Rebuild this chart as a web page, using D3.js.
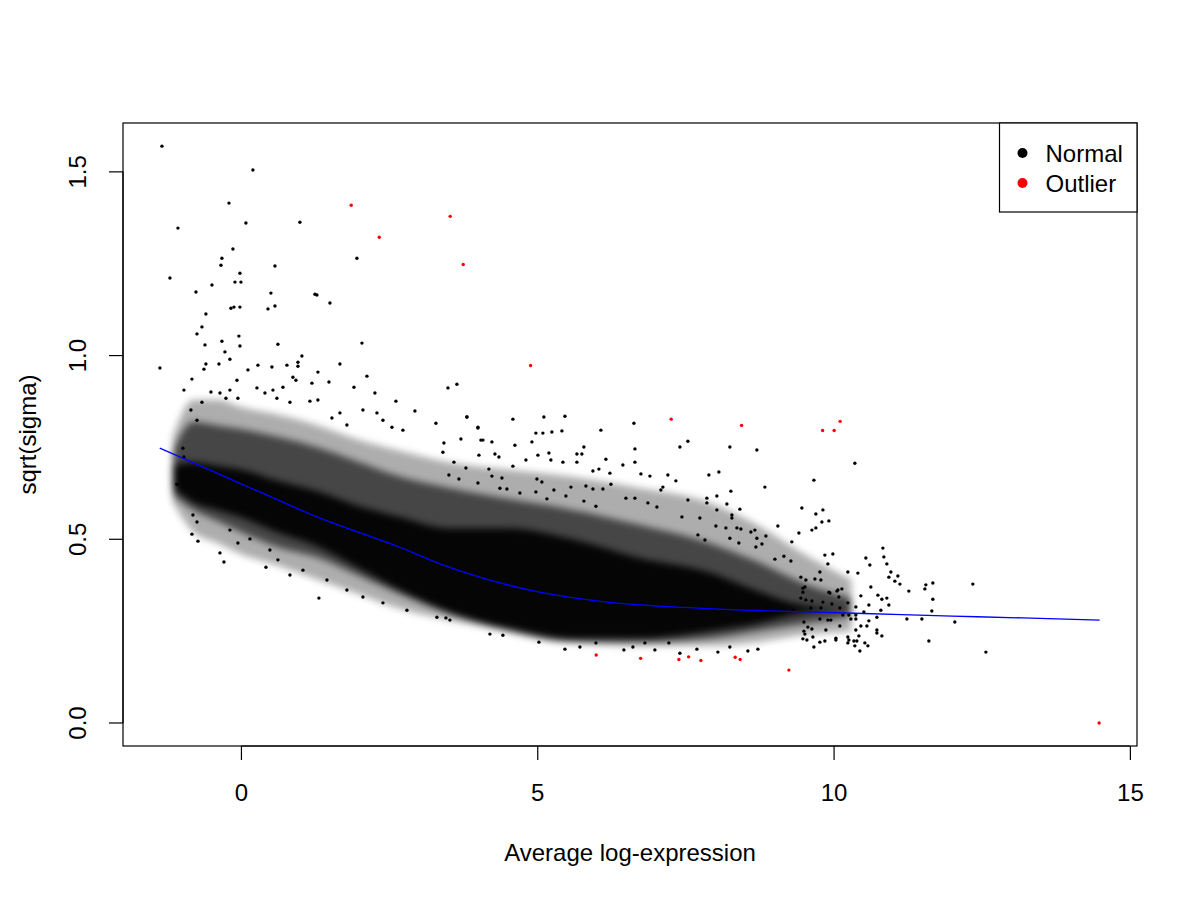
<!DOCTYPE html>
<html>
<head>
<meta charset="utf-8">
<script src="https://cdn.jsdelivr.net/npm/d3@7/dist/d3.min.js"></script>
<style>
  body { margin: 0; background: #fff; }
  svg text { font-family: "Liberation Sans", Arial, Helvetica, sans-serif; fill: #000; }
</style>
</head>
<body>
<div id="chart"></div>
<script>
/* sqrt(sigma) vs average log-expression, limma plotSA style */

const xTicks = [0, 5, 10, 15];
const yTicks = [0, 0.5, 1.0, 1.5];
const yTickLabels = ["0.0", "0.5", "1.0", "1.5"];

/* dense core of the cloud, read as ink bands per x position */
const bandX   = [-1.15, -0.8, -0.4, 0, 0.6, 1.3, 2.0, 2.7, 3.5, 4.5, 5.6, 6.7, 7.9, 8.7, 9.5, 10.3];
const outerLo = [0.60, 0.52, 0.49, 0.46, 0.43, 0.39, 0.35, 0.31, 0.28, 0.25, 0.22, 0.21, 0.21, 0.22, 0.24, 0.25];
const outerHi = [0.78, 0.88, 0.88, 0.86, 0.84, 0.81, 0.77, 0.74, 0.71, 0.69, 0.67, 0.64, 0.60, 0.54, 0.46, 0.39];
const midLo   = [0.62, 0.58, 0.55, 0.52, 0.48, 0.45, 0.40, 0.35, 0.30, 0.25, 0.22, 0.22, 0.23, 0.25, 0.27, 0.29];
const midHi   = [0.74, 0.82, 0.81, 0.80, 0.78, 0.75, 0.71, 0.67, 0.64, 0.61, 0.58, 0.54, 0.49, 0.44, 0.38, 0.34];
const innerLo = [0.64, 0.60, 0.58, 0.56, 0.52, 0.48, 0.42, 0.36, 0.30, 0.26, 0.23, 0.23, 0.25, 0.27, 0.30, 0.31];
const innerHi = [0.70, 0.71, 0.70, 0.69, 0.66, 0.63, 0.59, 0.56, 0.53, 0.53, 0.50, 0.45, 0.41, 0.36, 0.32, 0.31];

/* individually visible genes away from the core */
const normalPts = [
  [-1.333,1.570],[0.202,1.505],[-0.202,1.415],[-1.063,1.347],[0.084,1.361],[0.995,1.363],[-0.135,1.290],
  [-0.321,1.265],[-0.337,1.246],[0.574,1.244],[1.957,1.265],[-1.198,1.211],[-0.017,1.224],[-0.489,1.192],
  [-0.101,1.200],[0.0,1.200],[-0.759,1.173],[0.506,1.170],[1.249,1.167],[1.282,1.165],[1.502,1.143],
  [-0.591,1.113],[-0.169,1.129],[-0.118,1.132],[-0.017,1.132],[0.456,1.127],[0.574,1.135],[-0.658,1.078],
  [-0.742,1.059],[-0.034,1.053],[-0.321,1.039],[-0.607,1.029],[-0.017,1.026],[0.624,1.031],[2.042,1.034],
  [-0.270,1.010],[-0.186,0.990],[1.029,0.999],[-1.367,0.966],[-0.591,0.977],[-0.624,0.963],[-0.371,0.977],
  [0.118,0.961],[0.287,0.974],[0.523,0.969],[0.776,0.974],[0.962,0.982],[0.962,0.971],[1.299,0.955],
  [1.670,0.977],
  [-0.827,0.936],[-0.962,0.906],[-0.067,0.933],[2.126,0.944],[1.485,0.928],[1.198,0.925],[1.907,0.914],
  [2.261,0.898],[2.615,0.876],[2.936,0.849],[3.493,0.912],[3.644,0.922],[3.813,0.833],[3.290,0.816],
  [3.999,0.805],[0.540,0.906],[0.270,0.912],[0.405,0.898],[-0.506,0.901],[-0.354,0.898],[-0.186,0.906],
  [0.877,0.941],[0.928,0.933],[0.709,0.914],[0.827,0.873],[1.299,0.879],[1.164,0.876],[0.607,0.884],
  [-0.658,0.873],[-0.051,0.884],[-0.253,0.884],[2.058,0.852],[2.295,0.844],[1.670,0.844],[1.535,0.830],
  [1.788,0.811],[2.396,0.824],[2.548,0.805],[2.733,0.797],[-0.844,0.852],[-0.742,0.824],
  [8.250,0.751],[8.706,0.743],[10.359,0.707],[9.668,0.661],[8.267,0.631],[8.841,0.642],[8.200,0.596],
  [8.419,0.582],[9.465,0.585],[9.820,0.580],[9.701,0.569],[8.284,0.558],[9.803,0.547],[9.921,0.550],
  [9.060,0.536],[8.183,0.531],[8.369,0.531],[8.436,0.528],[8.672,0.525],[9.634,0.525],[9.701,0.531],
  [9.415,0.517],[8.858,0.509],[8.250,0.503],[8.605,0.520],[8.706,0.503],[9.296,0.493],[10.832,0.476],
  [8.791,0.487],[8.402,0.490],[8.689,0.479],[9.853,0.457],[9.988,0.460],[10.849,0.452],[10.545,0.449],
  [10.612,0.430],[10.899,0.433],[9.904,0.433],[9.010,0.446],[9.162,0.454],[9.280,0.441],[10.241,0.411],
  [10.410,0.408],[9.769,0.411],[10.967,0.411],[11.085,0.400],[10.933,0.397],[11.034,0.386],[11.119,0.378],
  [11.557,0.376],[11.675,0.381],[12.350,0.378],[11.540,0.365],[11.270,0.359],[10.629,0.370],[10.073,0.362],
  [10.140,0.365],[9.938,0.354],[9.448,0.397],[9.516,0.370],[9.786,0.389],[10.461,0.346],[10.748,0.348],
  [10.815,0.337],[10.899,0.340],[11.675,0.337],[10.596,0.321],[10.933,0.321],[10.798,0.307],[11.658,0.305],
  [10.241,0.327],[10.376,0.316],[10.511,0.302],[9.971,0.324],[10.106,0.313],[9.820,0.329],[9.617,0.313],
  [9.313,0.307],[11.237,0.283],[11.490,0.283],[12.046,0.275],
  [9.533,0.389],[9.685,0.392],[9.921,0.356],[10.056,0.359],[9.482,0.367],[9.482,0.356],[9.448,0.340],
  [9.533,0.335],[9.634,0.332],[10.089,0.343],[9.786,0.313],[10.157,0.294],[10.258,0.294],[10.376,0.294],
  [10.731,0.288],[9.769,0.283],[9.904,0.280],[9.954,0.280],[10.292,0.283],[10.376,0.283],[10.596,0.278],
  [9.499,0.275],[10.106,0.264],[10.461,0.264],[10.562,0.264],[9.566,0.261],[9.634,0.256],[9.870,0.253],
  [10.376,0.253],[10.731,0.253],[9.499,0.250],[10.731,0.245],[9.516,0.242],[10.427,0.237],[10.815,0.237],
  [9.651,0.234],[10.241,0.234],[10.039,0.231],[9.482,0.229],[9.550,0.226],[9.853,0.223],[9.769,0.220],
  [10.039,0.226],[10.258,0.226],[10.343,0.223],[10.393,0.223],[10.241,0.218],[10.528,0.218],[10.579,0.210],
  [11.608,0.223],[10.359,0.210],[9.668,0.207],[10.444,0.196],[12.570,0.193],
  [3.813,0.833],[4.589,0.827],[5.112,0.833],[5.467,0.835],[6.631,0.816],[3.999,0.803],[6.074,0.797],
  [4.977,0.789],[5.095,0.789],[5.247,0.792],[5.416,0.795],[3.425,0.762],[3.712,0.773],[4.049,0.770],
  [4.083,0.770],[4.235,0.765],[4.623,0.756],[4.910,0.765],[5.787,0.751],[6.648,0.746],[7.407,0.751],
  [7.542,0.767],[3.408,0.737],[4.016,0.729],[4.286,0.732],[4.353,0.724],[5.011,0.729],[5.197,0.735],
  [5.669,0.732],[5.753,0.732],[6.158,0.718],[3.594,0.710],[4.809,0.716],[5.230,0.716],[5.433,0.710],
  [5.669,0.710],[6.648,0.710],[6.445,0.702],[4.589,0.699],[4.184,0.691],[3.796,0.694],[5.939,0.686],
  [6.040,0.691],[6.226,0.680],[6.749,0.678],[6.901,0.672],[7.204,0.675],[7.896,0.675],[8.065,0.683],
  [7.339,0.659],[7.086,0.634],[7.120,0.642],[6.243,0.650],[6.108,0.637],[5.939,0.637],[5.821,0.645],
  [5.568,0.642],[5.281,0.634],[5.078,0.656],[4.994,0.664],[4.404,0.667],[4.235,0.672],[3.678,0.664],
  [3.509,0.675],[3.999,0.653],[4.370,0.639],[4.488,0.637],[4.707,0.626],[4.977,0.629],[5.163,0.610],
  [5.483,0.618],[5.787,0.604],[5.990,0.590],[6.496,0.612],[6.648,0.612],[6.867,0.599],[7.019,0.588],
  [7.542,0.607],[7.862,0.612],[8.031,0.618],[7.862,0.599],[8.031,0.580],[8.284,0.566],[7.441,0.561],
  [7.744,0.558],[8.014,0.536],[7.711,0.512],[7.829,0.498],
  [5.467,0.201],[5.028,0.220],[4.201,0.242],[4.420,0.239],[6.816,0.218],[6.985,0.199],[7.694,0.201],
  [8.048,0.193],[8.250,0.207],[8.554,0.196],[8.723,0.201],[7.407,0.190],[7.221,0.218],[6.462,0.199],
  [6.614,0.207],[5.990,0.218],[5.720,0.207],[3.459,0.286],
  [-1.080,0.650],[-0.827,0.514],[-0.725,0.495],[-0.354,0.463],[-0.287,0.438],[0.422,0.424],[0.827,0.403],
  [1.316,0.340],[-0.810,0.566],[-0.742,0.547],[-0.186,0.525],[-0.051,0.490],[0.152,0.501],[0.489,0.471],
  [0.624,0.444],[1.046,0.416],[1.451,0.389],[1.788,0.362],[2.058,0.343],[2.396,0.327],[2.801,0.307],
  [3.307,0.288],[3.526,0.280],[-0.979,0.748],[-0.962,0.724]
];

/* genes flagged as outliers */
const outlierPts = [
  [1.861,1.409],[2.334,1.322],[3.531,1.379],[3.751,1.248],[4.888,0.973],[7.260,0.827],[8.448,0.810],
  [9.815,0.796],[10.010,0.796],[10.111,0.821],[5.995,0.185],[6.744,0.176],[7.390,0.173],[7.554,0.180],
  [7.761,0.170],[8.340,0.179],[8.424,0.173],[9.246,0.144],[14.481,0.0]
];

/* fitted trend */
const trendX = [-1.37, -0.5, 0, 0.5, 1.28, 2.0, 2.7, 3.36, 4.03, 5.04, 6.18, 7.29, 8.93, 10.5, 12.0, 13.19, 14.49];
const trendY = [0.748, 0.687, 0.651, 0.616, 0.561, 0.518, 0.477, 0.433, 0.397, 0.356, 0.329, 0.316, 0.305, 0.298, 0.291, 0.286, 0.280];

const legendLabels = ["Normal", "Outlier"];
const legendColors = ["#000000", "#FF0000"];

(function () {
  const W = 1200, H = 900;
  const margin = { top: 123, right: 63, bottom: 154, left: 123 };
  const w = W - margin.left - margin.right;
  const h = H - margin.top - margin.bottom;
  const FS = "24px";

  const svg = d3.select("#chart").append("svg")
    .attr("width", W).attr("height", H)
    .attr("viewBox", `0 0 ${W} ${H}`);

  const x = d3.scaleLinear().domain([-1.99, 15.12]).range([0, w]);
  const y = d3.scaleLinear().domain([-0.0626, 1.633]).range([h, 0]);

  const defs = svg.append("defs");
  defs.append("filter").attr("id", "soft")
    .attr("x", "-10%").attr("y", "-10%").attr("width", "120%").attr("height", "120%")
    .append("feGaussianBlur").attr("stdDeviation", 3.5);
  defs.append("clipPath").attr("id", "plotclip")
    .append("rect").attr("width", w).attr("height", h);

  const g = svg.append("g").attr("transform", `translate(${margin.left},${margin.top})`);
  const plot = g.append("g").attr("clip-path", "url(#plotclip)");

  /* dense core */
  const bands = [
    { lo: outerLo, hi: outerHi, op: 0.32 },
    { lo: midLo, hi: midHi, op: 0.6 },
    { lo: innerLo, hi: innerHi, op: 0.92 }
  ];
  const core = plot.append("g").attr("filter", "url(#soft)");
  bands.forEach(b => {
    const rows = bandX.map((bx, i) => ({ x: bx, lo: b.lo[i], hi: b.hi[i] }));
    core.append("path").datum(rows)
      .attr("d", d3.area().curve(d3.curveMonotoneX)
        .x(d => x(d.x)).y0(d => y(d.lo)).y1(d => y(d.hi)))
      .attr("fill", "#000").attr("fill-opacity", b.op);
  });

  /* points */
  plot.append("g").selectAll("circle").data(normalPts).enter().append("circle")
    .attr("cx", d => x(d[0])).attr("cy", d => y(d[1])).attr("r", 1.7).attr("fill", "#000");
  plot.append("g").selectAll("circle").data(outlierPts).enter().append("circle")
    .attr("cx", d => x(d[0])).attr("cy", d => y(d[1])).attr("r", 1.7).attr("fill", "#FF0000");

  /* trend line */
  plot.append("path")
    .datum(trendX.map((tx, i) => [tx, trendY[i]]))
    .attr("d", d3.line().curve(d3.curveMonotoneX).x(d => x(d[0])).y(d => y(d[1])))
    .attr("fill", "none").attr("stroke", "#0000FF").attr("stroke-width", 1.3);

  /* box */
  g.append("rect").attr("width", w).attr("height", h)
    .attr("fill", "none").attr("stroke", "#000").attr("stroke-width", 1.2);

  /* x axis */
  const xa = g.append("g").attr("transform", `translate(0,${h})`)
    .call(d3.axisBottom(x).tickValues(xTicks).tickSize(14).tickPadding(24).tickFormat(d3.format("d")));
  xa.select(".domain").remove();
  xa.append("line").attr("x1", x(xTicks[0])).attr("x2", x(xTicks[xTicks.length - 1]))
    .attr("stroke", "#000").attr("stroke-width", 1.2);
  xa.selectAll(".tick line").attr("stroke", "#000").attr("stroke-width", 1.2);
  xa.selectAll("text").style("font-size", FS).attr("fill", "#000");

  /* y axis, rotated labels like base R */
  const ya = g.append("g");
  ya.append("line").attr("x1", 0).attr("x2", 0)
    .attr("y1", y(yTicks[0])).attr("y2", y(yTicks[yTicks.length - 1]))
    .attr("stroke", "#000").attr("stroke-width", 1.2);
  ya.selectAll(".yt").data(yTicks).enter().append("line").attr("class", "yt")
    .attr("x1", 0).attr("x2", -14).attr("y1", d => y(d)).attr("y2", d => y(d))
    .attr("stroke", "#000").attr("stroke-width", 1.2);
  ya.selectAll(".yl").data(yTicks).enter().append("text").attr("class", "yl")
    .attr("transform", d => `translate(${86 - margin.left},${y(d)}) rotate(-90)`)
    .attr("text-anchor", "middle").style("font-size", FS)
    .text((d, i) => yTickLabels[i]);

  /* axis titles */
  svg.append("text").attr("x", margin.left + w / 2).attr("y", 861)
    .attr("text-anchor", "middle").style("font-size", FS)
    .text("Average log-expression");
  svg.append("text").attr("transform", `translate(36,${margin.top + h / 2}) rotate(-90)`)
    .attr("text-anchor", "middle").style("font-size", FS)
    .text("sqrt(sigma)");

  /* legend */
  const lg = svg.append("g").attr("transform", "translate(999.5,123)");
  lg.append("rect").attr("width", 137.5).attr("height", 89)
    .attr("fill", "#fff").attr("stroke", "#000").attr("stroke-width", 1.2);
  legendLabels.forEach((lab, i) => {
    lg.append("circle").attr("cx", 23).attr("cy", 30 + i * 30).attr("r", 5).attr("fill", legendColors[i]);
    lg.append("text").attr("x", 46).attr("y", 38.5 + i * 30).style("font-size", FS).text(lab);
  });
})();
</script>
</body>
</html>
